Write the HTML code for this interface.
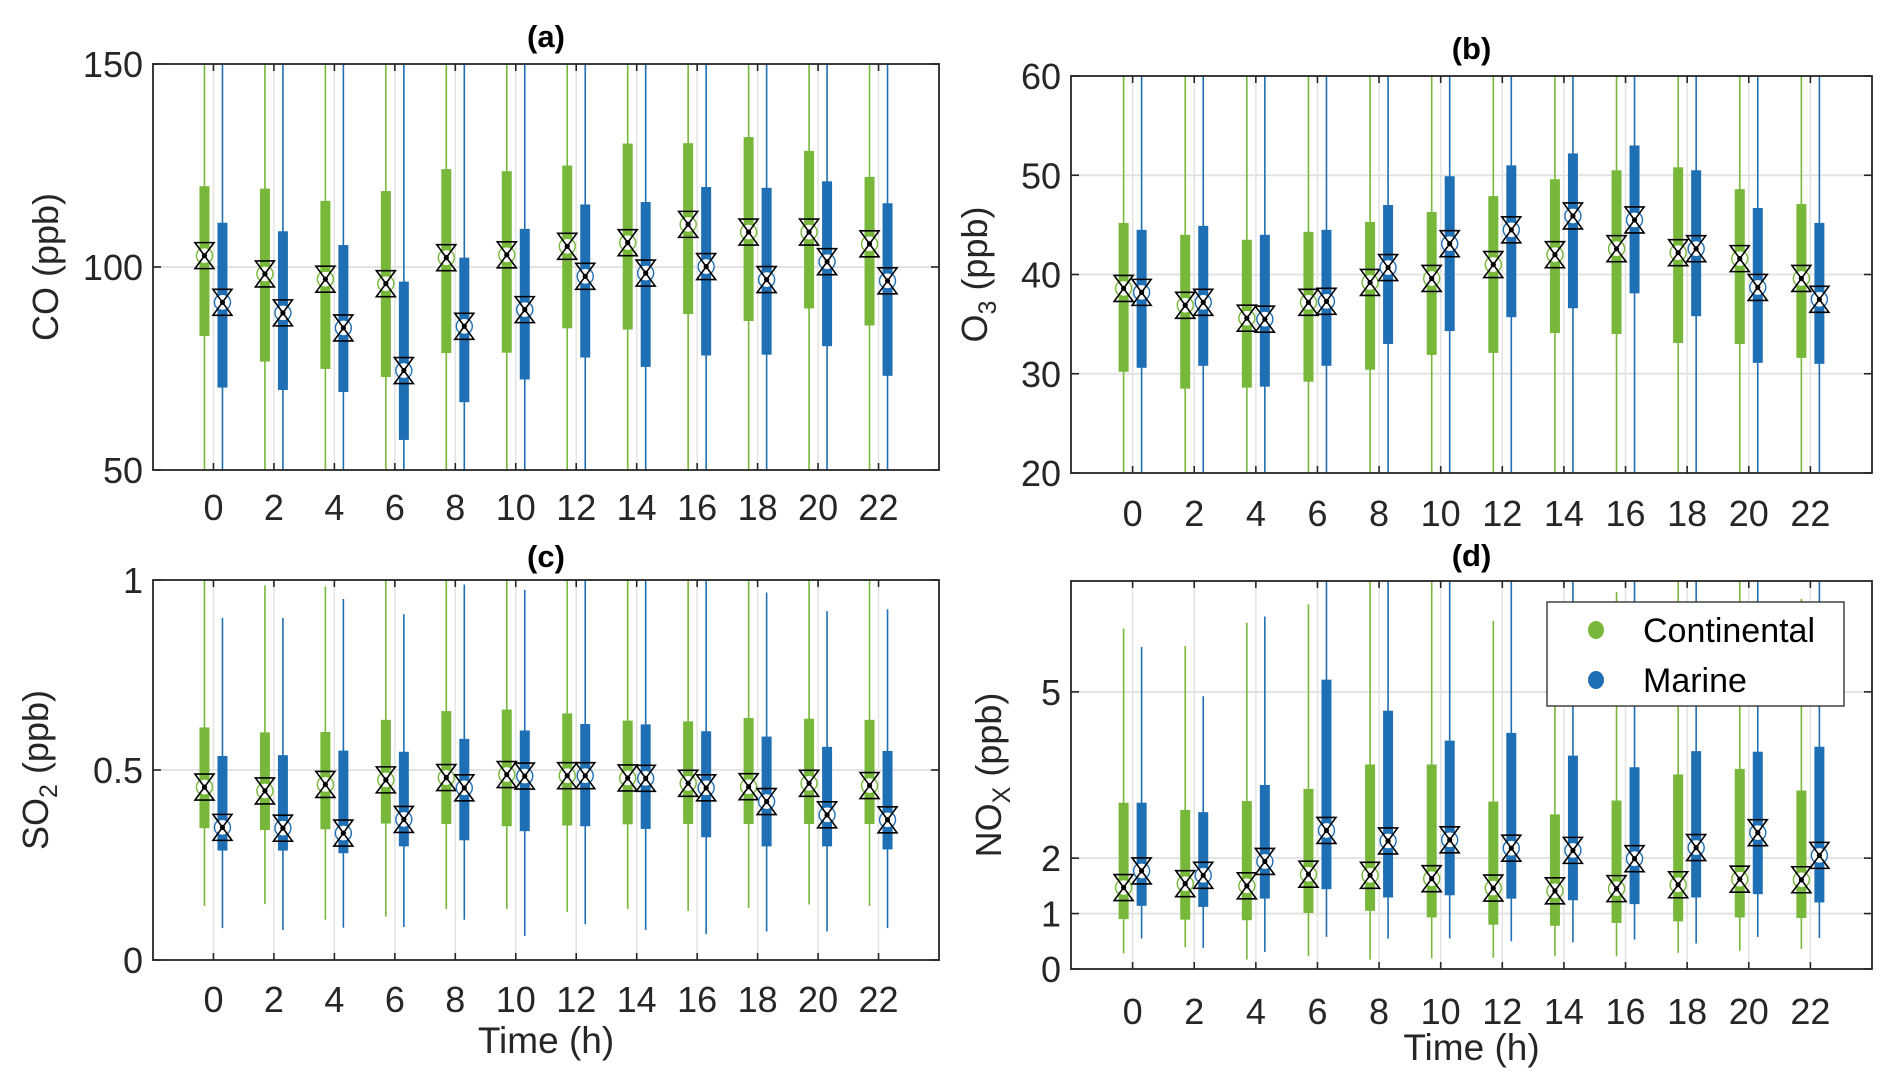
<!DOCTYPE html>
<html><head><meta charset="utf-8"><style>
html,body{margin:0;padding:0;background:#fff;}
svg{display:block;font-family:"Liberation Sans",Arial,sans-serif;}
</style></head><body>
<svg id="fig" width="1892" height="1087" viewBox="0 0 1892 1087" xmlns="http://www.w3.org/2000/svg">
<rect width="1892" height="1087" fill="#fff"/>
</svg>
<script>
const hours = ["0","2","4","6","8","10","12","14","16","18","20","22"];
// Panel a: CO
const coGreenQ3 = [119.9,119.3,116.3,118.7,124.1,123.6,125.0,130.4,130.5,132.0,128.6,122.2];
const coGreenQ1 = [83.0,76.7,74.9,72.9,78.8,78.9,84.9,84.6,88.4,86.7,89.8,85.6];
const coGreenMed = [102.8,98.3,97.0,95.9,102.3,103.0,105.1,106.0,110.5,108.6,108.6,105.7];
const coGreenLo = [40,40,40,40,40,40,40,40,40,40,40,40];
const coGreenHi = [160,160,160,160,160,160,160,160,160,160,160,160];
const coBlueQ3 = [110.9,108.8,105.4,96.4,102.3,109.4,115.4,116.0,119.7,119.5,121.1,115.7];
const coBlueQ1 = [70.3,69.7,69.2,57.4,66.7,72.3,77.7,75.4,78.2,78.4,80.5,73.2];
const coBlueMed = [91.3,88.7,85.0,74.5,85.4,89.5,97.7,98.5,100.1,96.9,101.3,96.6];
const coBlueLo = [40,40,40,40,40,40,40,40,40,40,40,40];
const coBlueHi = [160,160,160,160,160,160,160,160,160,160,160,160];
// Panel b: O3
const o3GreenQ3 = [45.2,44.0,43.5,44.3,45.3,46.3,47.9,49.6,50.5,50.8,48.6,47.1];
const o3GreenQ1 = [30.2,28.5,28.6,29.2,30.4,31.9,32.1,34.1,34.0,33.1,33.0,31.6];
const o3GreenMed = [38.6,36.9,35.6,37.2,39.2,39.6,41.0,42.0,42.6,42.2,41.6,39.6];
const o3GreenLo = [15,15,15,15,15,15,15,15,15,15,15,15];
const o3GreenHi = [65,65,65,65,65,65,65,65,65,65,65,65];
const o3BlueQ3 = [44.5,44.9,44.0,44.5,47.0,49.9,51.0,52.2,53.0,50.5,46.7,45.2];
const o3BlueQ1 = [30.6,30.8,28.7,30.8,33.0,34.3,35.7,36.6,38.1,35.8,31.1,31.0];
const o3BlueMed = [38.2,37.2,35.5,37.3,40.7,43.1,44.5,45.9,45.5,42.6,38.7,37.5];
const o3BlueLo = [15,15,15,15,15,15,15,15,15,15,15,15];
const o3BlueHi = [65,65,65,65,65,65,65,65,65,65,65,65];
// Panel c: SO2
const so2GreenQ3 = [0.612,0.599,0.600,0.632,0.655,0.659,0.649,0.630,0.628,0.637,0.635,0.632];
const so2GreenQ1 = [0.347,0.342,0.344,0.359,0.358,0.352,0.354,0.357,0.358,0.358,0.358,0.358];
const so2GreenMed = [0.455,0.445,0.462,0.474,0.480,0.488,0.485,0.479,0.465,0.456,0.465,0.459];
const so2GreenLo = [0.142,0.147,0.106,0.114,0.134,0.134,0.126,0.134,0.129,0.137,0.146,0.142];
const so2GreenHi = [1.05,0.986,0.983,1.05,1.05,1.05,1.05,1.05,1.05,1.05,1.05,1.05];
const so2BlueQ3 = [0.537,0.539,0.551,0.548,0.582,0.604,0.621,0.620,0.602,0.588,0.561,0.550];
const so2BlueQ1 = [0.288,0.288,0.281,0.299,0.315,0.339,0.352,0.345,0.323,0.299,0.299,0.291];
const so2BlueMed = [0.349,0.347,0.334,0.370,0.453,0.484,0.485,0.478,0.453,0.417,0.382,0.369];
const so2BlueLo = [0.084,0.079,0.085,0.087,0.106,0.063,0.094,0.079,0.068,0.075,0.075,0.084];
const so2BlueHi = [0.900,0.900,0.950,0.910,0.988,0.974,1.05,1.05,1.05,0.967,0.918,0.923];
// Panel d: NOx
const noxGreenQ3 = [3.0,2.87,3.03,3.25,3.69,3.69,3.02,2.79,3.04,3.51,3.61,3.22];
const noxGreenQ1 = [0.90,0.89,0.88,1.01,1.05,0.93,0.80,0.78,0.83,0.86,0.93,0.92];
const noxGreenMed = [1.47,1.54,1.50,1.71,1.69,1.63,1.46,1.41,1.45,1.52,1.62,1.61];
const noxGreenLo = [0.28,0.39,0.17,0.23,0.17,0.19,0.20,0.23,0.23,0.29,0.33,0.36];
const noxGreenHi = [6.14,5.83,6.25,6.58,7.5,7.5,6.28,6.6,6.8,7.5,7.5,6.68];
const noxBlueQ3 = [3.0,2.83,3.32,5.22,4.66,4.12,4.26,3.85,3.64,3.93,3.92,4.01];
const noxBlueQ1 = [1.14,1.12,1.27,1.44,1.29,1.33,1.27,1.24,1.17,1.29,1.35,1.20];
const noxBlueMed = [1.77,1.69,1.94,2.50,2.31,2.33,2.18,2.14,1.99,2.19,2.46,2.05];
const noxBlueLo = [0.55,0.38,0.31,0.58,0.55,0.55,0.50,0.48,0.53,0.46,0.58,0.56];
const noxBlueHi = [5.81,4.92,6.36,7.5,7.5,7.5,7.5,7.5,7.5,7.5,7.5,7.5];

const G="#77b83a", B="#1f6fb4";
const NS="http://www.w3.org/2000/svg";
const svg=document.getElementById('fig');
function el(tag,attrs,parent){const e=document.createElementNS(NS,tag);for(const k in attrs)e.setAttribute(k,attrs[k]);(parent||svg).appendChild(e);return e;}

const panels=[
 {id:'a',title:'(a)',x0:153,x1:939,y0:64,y1:470,ymin:50,ymax:150,ticks:[50,100,150],grid:[100],labels:['50','100','150'],
  g:[coGreenQ3,coGreenQ1,coGreenMed,coGreenLo,coGreenHi],b:[coBlueQ3,coBlueQ1,coBlueMed,coBlueLo,coBlueHi],
  ylab:'CO (ppb)',sub:'',ylx:46,tty:36,xly:507,time:false},
 {id:'b',title:'(b)',x0:1071,x1:1872,y0:76,y1:473,ymin:20,ymax:60,ticks:[20,30,40,50,60],grid:[30,40,50],labels:['20','30','40','50','60'],
  g:[o3GreenQ3,o3GreenQ1,o3GreenMed,o3GreenLo,o3GreenHi],b:[o3BlueQ3,o3BlueQ1,o3BlueMed,o3BlueLo,o3BlueHi],
  ylab:'O',sub:'3',after:' (ppb)',ylx:975,tty:48,xly:513,time:false},
 {id:'c',title:'(c)',x0:153,x1:939,y0:580,y1:960,ymin:0,ymax:1,ticks:[0,0.5,1],grid:[0.5],labels:['0','0.5','1'],
  g:[so2GreenQ3,so2GreenQ1,so2GreenMed,so2GreenLo,so2GreenHi],b:[so2BlueQ3,so2BlueQ1,so2BlueMed,so2BlueLo,so2BlueHi],
  ylab:'SO',sub:'2',after:' (ppb)',ylx:36,tty:556,xly:999,time:true,timey:1040},
 {id:'d',title:'(d)',x0:1071,x1:1872,y0:581,y1:969,ymin:0,ymax:7,ticks:[0,1,2,5],grid:[1,2,5],labels:['0','1','2','5'],
  g:[noxGreenQ3,noxGreenQ1,noxGreenMed,noxGreenLo,noxGreenHi],b:[noxBlueQ3,noxBlueQ1,noxBlueMed,noxBlueLo,noxBlueHi],
  ylab:'NO',sub:'X',after:' (ppb)',ylx:989,tty:555,xly:1011,time:true,timey:1047}
];

panels.forEach(p=>{
  const grp=el('g',{});
  
  
  const n=hours.length;
  const slot=(p.x1-p.x0)/(n+1);
  const xs=i=>p.x0+slot*(i+1);
  const ys=v=>p.y1-(v-p.ymin)/(p.ymax-p.ymin)*(p.y1-p.y0);
  const clipId='clip'+p.id;
  const cp=el('clipPath',{id:clipId},grp);
  el('rect',{x:p.x0,y:p.y0,width:p.x1-p.x0,height:p.y1-p.y0},cp);
  hours.forEach((h,i)=>{const l=el('line',{x1:xs(i),x2:xs(i),y1:p.y0,y2:p.y1,stroke:'#e3e3e3','stroke-width':1.5},grp);});
  p.grid.forEach(v=>{const l=el('line',{x1:p.x0,x2:p.x1,y1:ys(v),y2:ys(v),stroke:'#e3e3e3','stroke-width':2},grp);});
  const plot=el('g',{'clip-path':'url(#'+clipId+')'},grp);
  function series(arr,color,off,name){
    hours.forEach((h,i)=>{
      const cx=xs(i)+off;
      const w=el('line',{x1:cx,x2:cx,y1:ys(arr[3][i]),y2:ys(arr[4][i]),stroke:color,'stroke-width':1.6},plot);
      
      
      const top=ys(arr[0][i]),bot=ys(arr[1][i]);
      const r=el('rect',{x:cx-5,y:top,width:10,height:bot-top,fill:color},plot);
      
      
      const my=ys(arr[2][i]);
      const c=el('circle',{cx:cx,cy:my,r:8,fill:'#fff',stroke:color,'stroke-width':1.4},plot);
      
      
      const tri=el('path',{d:`M${cx-9.5},${my-13}L${cx+9.5},${my-13}L${cx},${my}Z M${cx-9.5},${my+13}L${cx+9.5},${my+13}L${cx},${my}Z`,fill:'none',stroke:'#000','stroke-width':1.6,'stroke-linejoin':'miter'},plot);
      
      
      const d=el('circle',{cx:cx,cy:my,r:2.6,fill:'#000'},plot);
      
      
    });
  }
  series(p.g,G,-9,'continental');
  series(p.b,B,9,'marine');
  const bx=el('rect',{x:p.x0,y:p.y0,width:p.x1-p.x0,height:p.y1-p.y0,fill:'none',stroke:'#262626','stroke-width':1.8},grp);
  
  hours.forEach((h,i)=>{
    el('line',{x1:xs(i),x2:xs(i),y1:p.y1,y2:p.y1-7,stroke:'#262626','stroke-width':1.6},grp);
    el('line',{x1:xs(i),x2:xs(i),y1:p.y0,y2:p.y0+7,stroke:'#262626','stroke-width':1.6},grp);
    const t=el('text',{x:xs(i),y:p.xly+13,'font-size':36,'text-anchor':'middle',fill:'#262626'},grp);
    t.textContent=h;
    
    
  });
  p.ticks.forEach((v,k)=>{
    el('line',{x1:p.x0,x2:p.x0+8,y1:ys(v),y2:ys(v),stroke:'#262626','stroke-width':1.6},grp);
    el('line',{x1:p.x1,x2:p.x1-8,y1:ys(v),y2:ys(v),stroke:'#262626','stroke-width':1.6},grp);
    const t=el('text',{x:p.x0-10,y:ys(v)+13,'font-size':36,'text-anchor':'end',fill:'#262626'},grp);
    t.textContent=p.labels[k];
    
    
  });
  const tt=el('text',{x:(p.x0+p.x1)/2,y:p.tty+11,'font-size':31,'font-weight':'bold','text-anchor':'middle',fill:'#000'},grp);
  tt.textContent=p.title;
  
  
  const cy=(p.y0+p.y1)/2;
  const yl=el('text',{x:0,y:0,'font-size':36,'text-anchor':'middle',fill:'#262626',transform:`translate(${p.ylx+12},${cy}) rotate(-90)`},grp);
  
  
  if(!p.sub){yl.textContent=p.ylab;}
  else{
    const a=el('tspan',{},yl);a.textContent=p.ylab;
    const s=el('tspan',{dy:9,'font-size':25},yl);s.textContent=p.sub;
    const c=el('tspan',{dy:-9},yl);c.textContent=p.after;
  }
  if(p.time){
    const xt=el('text',{x:(p.x0+p.x1)/2,y:p.timey+13,'font-size':37,'text-anchor':'middle',fill:'#262626'},grp);
    xt.textContent='Time (h)';
    
    
  }
});
const lg=el('g',{});


el('rect',{x:1547,y:602,width:297,height:104,fill:'#fff',stroke:'#262626','stroke-width':1.3},lg);
const legendItems=[['Continental',G,630],['Marine',B,680]];
legendItems.forEach(it=>{
  const e=el('g',{},lg);
  
  
  el('ellipse',{cx:1596,cy:it[2],rx:8,ry:9,fill:it[1]},e);
  const t=el('text',{x:1643,y:it[2]+12,'font-size':34,fill:'#000'},e);
  t.textContent=it[0];
});
</script>
</body></html>
